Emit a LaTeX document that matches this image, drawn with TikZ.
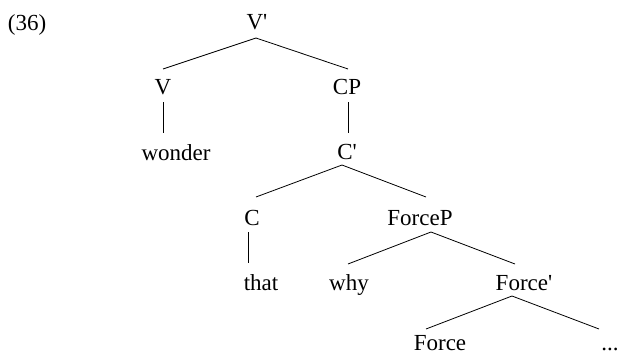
\documentclass[tikz,border=0pt]{standalone}
\usepackage{fontspec}
\setmainfont{Liberation Serif}
\begin{document}
\begin{tikzpicture}[x=1pt,y=-1pt,
  lbl/.style={anchor=base,inner sep=0pt,font=\fontsize{23}{27}\selectfont},
  edge/.style={line width=0.8pt}]
\useasboundingbox (0,0) rectangle (619,356);
% labels
\node[lbl] (ex) at (27,30.5) {(36)};
\node[lbl] (Vbar) at (257,30) {V\textquotesingle};
\node[lbl] (V) at (163,94) {V};
\node[lbl] (CP) at (347,94.5) {CP};
\node[lbl] (wonder) at (176,160) {wonder};
\node[lbl] (Cbar) at (347,159) {C\textquotesingle};
\node[lbl] (C) at (252,225) {C};
\node[lbl] (ForceP) at (420,225) {ForceP};
\node[lbl] (that) at (261,290) {that};
\node[lbl] (why) at (349,290) {why};
\node[lbl] (Forcebar) at (524,290) {Force\textquotesingle};
\node[lbl] (Force) at (440,350) {Force};
\node[lbl] (dots) at (610,350) {...};
% branch points
\coordinate (a1) at (256,38);
\coordinate (vT) at (163,69);
\coordinate (cpT) at (348,69);
\coordinate (vB) at (163,102);
\coordinate (wT) at (163,133);
\coordinate (cpB) at (348,102);
\coordinate (cbT) at (348,133);
\coordinate (a2) at (342,165);
\coordinate (cT) at (256,197);
\coordinate (fpT) at (426,197);
\coordinate (cB) at (248,232);
\coordinate (thT) at (248,263);
\coordinate (a3) at (431,232);
\coordinate (whT) at (348,264);
\coordinate (fbT) at (515,264);
\coordinate (a4) at (512,296);
\coordinate (fT) at (426,329);
\coordinate (dT) at (599,329);
% edges
\draw[edge] (vT) -- (a1) -- (cpT);
\draw[edge] (vB) -- (wT);
\draw[edge] (cpB) -- (cbT);
\draw[edge] (cT) -- (a2) -- (fpT);
\draw[edge] (cB) -- (thT);
\draw[edge] (whT) -- (a3) -- (fbT);
\draw[edge] (fT) -- (a4) -- (dT);
\end{tikzpicture}
\end{document}
